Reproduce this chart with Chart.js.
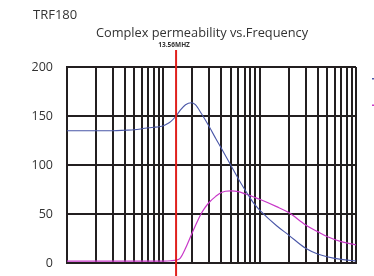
<!DOCTYPE html>
<html>
<head>
<meta charset="utf-8">
<script src="https://cdn.jsdelivr.net/npm/chart.js@4/dist/chart.umd.min.js"></script>
<style>
  html, body { margin:0; padding:0; background:#fff; overflow:hidden; }
  #wrap { position:relative; width:374px; height:276px; }
  canvas { position:absolute; left:0; top:0; }
  .t { position:absolute; font-family:"Open Sans", sans-serif; color:#333; white-space:nowrap; line-height:1; }
</style>
</head>
<body>
<div id="wrap">
  <canvas id="c" width="374" height="276"></canvas>
  <div class="t" id="t1" style="left:33px; top:8px; font-size:13px;">TRF180</div>
  <div class="t" id="t2" style="left:202px; top:26px; font-size:12.8px; transform:translateX(-50%);">Complex permeability vs.Frequency</div>
</div>
<script>
// ---- data (frequency in MHz) ----
const freqReal = [1, 2, 3, 4, 5, 6, 7, 8, 9, 10, 11, 12, 13.56, 15, 17, 19.5, 21.5, 25, 30, 35, 40, 50, 60, 70, 80, 90, 100, 150, 200, 300, 400, 500, 700, 1000];
const muReal   = [135, 135, 135, 135.5, 136, 137, 138, 138.5, 139, 140, 142, 144.5, 150, 156, 161.5, 163.5, 161.5, 152, 139, 127, 117, 100, 86, 75, 66, 59, 54, 38, 28.5, 15, 9.2, 6.4, 3.7, 2];
const freqImag = [1, 2, 5, 10, 12, 13.56, 15, 17, 19, 21.5, 24, 26, 30, 35, 40, 50, 60, 70, 80, 90, 100, 150, 200, 300, 400, 500, 700, 1000];
const muImag   = [2, 2, 2, 2, 2.3, 3, 5, 15, 26, 38, 48, 54, 62, 68, 72, 73.5, 72.8, 70.7, 68.7, 66.7, 65, 57.5, 51.5, 38.8, 32, 27, 21.8, 18.4];
const xGridTicks = [1,2,3,4,5,6,7,8,9,10,20,30,40,50,60,70,80,90,100,200,300,400,500,600,700,800,900,1000];
const yTicks = [0, 50, 100, 150, 200];
const markerFreq = 13.56;
const markerLabel = "13.56MHZ";
const seriesNames = ["\u03bc'", "\u03bc''"];

const gridColor = '#231f20';

const markerPlugin = {
  id: 'marker',
  afterDatasetsDraw(chart) {
    const {ctx, chartArea, scales} = chart;
    const x = scales.x.getPixelForValue(markerFreq);
    ctx.save();
    ctx.strokeStyle = '#e0201c';
    ctx.lineWidth = 2;
    ctx.beginPath();
    ctx.moveTo(x, chartArea.top - 17);
    ctx.lineTo(x, chartArea.bottom + 13);
    ctx.stroke();
    ctx.fillStyle = '#333';
    ctx.font = 'bold 6.5px "Open Sans", sans-serif';
    ctx.textAlign = 'center';
    ctx.textBaseline = 'alphabetic';
    ctx.fillText(markerLabel, x - 2, chartArea.top - 20);
    // legend stubs (cut off at the right edge)
    const cols = ['#4a57a8', '#c838c8'];
    const ys = [scales.y.getPixelForValue(188), scales.y.getPixelForValue(161)];
    for (let i = 0; i < 2; i++) {
      ctx.strokeStyle = cols[i];
      ctx.lineWidth = 1.5;
      ctx.beginPath();
      ctx.moveTo(chartArea.right + 16, ys[i]);
      ctx.lineTo(chartArea.right + 22, ys[i]);
      ctx.stroke();
    }
    ctx.restore();
  }
};

new Chart(document.getElementById('c'), {
  type: 'line',
  data: {
    datasets: [
      {
        label: seriesNames[0],
        data: freqReal.map((f, i) => ({x: f, y: muReal[i]})),
        borderColor: '#4a57a8',
        borderWidth: 1.1,
        pointRadius: 0,
        cubicInterpolationMode: 'monotone',
        fill: false
      },
      {
        label: seriesNames[1],
        data: freqImag.map((f, i) => ({x: f, y: muImag[i]})),
        borderColor: '#c838c8',
        borderWidth: 1.2,
        pointRadius: 0,
        cubicInterpolationMode: 'monotone',
        fill: false
      }
    ]
  },
  options: {
    responsive: false,
    animation: false,
    events: [],
    layout: { padding: { top: 67, bottom: 13, left: 0, right: 18 } },
    plugins: { legend: { display: false }, title: { display: false }, tooltip: { enabled: false } },
    scales: {
      x: {
        type: 'logarithmic',
        min: 1, max: 1000,
        afterBuildTicks(scale) { scale.ticks = xGridTicks.map(v => ({value: v})); },
        afterFit(scale) { scale.height = 0; },
        ticks: { display: false },
        grid: { color: gridColor, lineWidth: 2, drawTicks: false },
        border: { color: gridColor, width: 2 }
      },
      y: {
        min: 0, max: 200,
        afterBuildTicks(scale) { scale.ticks = yTicks.map(v => ({value: v})); },
        afterFit(scale) { scale.width = 67; scale.paddingTop = 0; scale.paddingBottom = 0; },
        ticks: { padding: 14, color: '#333', font: { family: '"Open Sans", sans-serif', size: 12.5 } },
        grid: { color: gridColor, lineWidth: 2, drawTicks: false },
        border: { color: gridColor, width: 2 }
      }
    }
  },
  plugins: [markerPlugin]
});
</script>
</body>
</html>
